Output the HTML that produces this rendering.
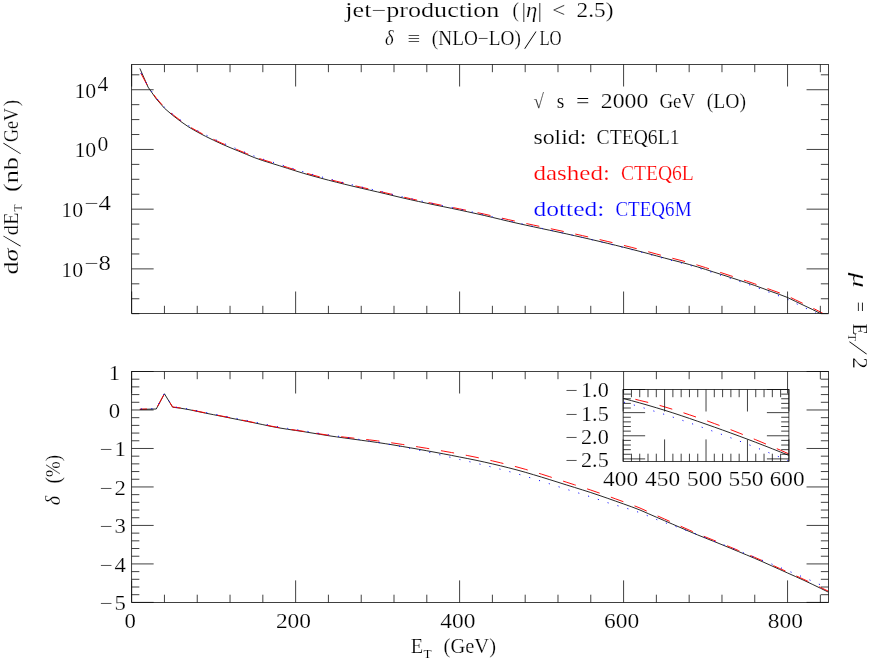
<!DOCTYPE html>
<html lang="en"><head><meta charset="utf-8"><title>jet-production</title>
<style>
html,body{margin:0;padding:0;background:#fff;}
body{width:872px;height:661px;overflow:hidden;font-family:"Liberation Serif",serif;}
svg{display:block;will-change:transform;}
.r{font-family:"Liberation Serif",serif;fill:#000;stroke:#fff;stroke-width:0.2px;}
.i{font-style:italic;}
.ax{fill:none;stroke:#0c0c0c;stroke-width:0.78;}
.cv{fill:none;stroke-width:0.95;stroke-linejoin:round;}
</style></head><body>
<svg width="872" height="661" viewBox="0 0 872 661">
<rect x="0" y="0" width="872" height="661" fill="#fff"/>
<defs>
<clipPath id="c1"><rect x="131.65" y="64.5" width="696.9" height="249"/></clipPath>
<clipPath id="c2"><rect x="131.65" y="371.5" width="696.9" height="230.9"/></clipPath>
<clipPath id="c3"><rect x="623.15" y="389.5" width="165.75" height="71.9"/></clipPath>
</defs>
<g clip-path="url(#c1)">
<path class="cv" stroke="#1c1c1c" d="M139.85 68.41L148.05 87.09L156.25 98.87L164.45 108.23L172.64 115.27L180.84 121.56L189.04 127.21L197.24 131.96L205.44 136.25L213.64 140.28L221.84 144.06L230.04 147.58L238.23 150.94L246.43 154.35L254.63 157.7L262.83 160.6L271.03 163.13L279.23 165.67L287.43 168.29L295.63 170.9L303.83 173.4L312.02 175.75L320.22 177.99L328.42 180.16L336.62 182.26L344.82 184.29L353.02 186.26L361.22 188.19L369.42 190.07L377.61 191.94L385.81 193.87L394.01 195.85L402.21 197.8L410.41 199.67L418.61 201.47L426.81 203.23L435.01 204.96L443.21 206.64L451.4 208.31L459.6 210.04L467.8 211.8L476 213.6L484.2 215.45L492.4 217.38L500.6 219.36L508.8 221.32L516.99 223.2L525.19 225.01L533.39 226.77L541.59 228.54L549.79 230.28L557.99 232.03L566.19 233.81L574.39 235.63L582.59 237.49L590.78 239.37L598.98 241.29L607.18 243.24L615.38 245.22L623.58 247.25L631.78 249.32L639.98 251.43L648.18 253.6L656.37 255.83L664.57 258.06L672.77 260.2L680.97 262.29L689.17 264.46L697.37 266.85L705.57 269.42L713.77 272.06L721.97 274.68L730.16 277.32L738.36 280L746.56 282.68L754.76 285.48L762.96 288.46L771.16 291.5L779.36 294.39L787.56 297.51L795.75 301.53L803.95 305.44L812.15 309.32L820.35 313.51L828.55 318.11"/>
<path class="cv" stroke="#ff0000" stroke-dasharray="13.2 11.8" stroke-dashoffset="-2.3" d="M139.85 71.41L148.05 86.61L156.25 98.08L164.45 107.43L172.64 114.46L180.84 120.74L189.04 126.39L197.24 131.12L205.44 135.41L213.64 139.43L221.84 143.21L230.04 146.71L238.23 150.07L246.43 153.47L254.63 156.82L262.83 159.71L271.03 162.23L279.23 164.76L287.43 167.38L295.63 169.98L303.83 172.47L312.02 174.81L320.22 177.05L328.42 179.21L336.62 181.31L344.82 183.33L353.02 185.29L361.22 187.22L369.42 189.08L377.61 190.95L385.81 192.87L394.01 194.84L402.21 196.79L410.41 198.65L418.61 200.45L426.81 202.2L435.01 203.92L443.21 205.59L451.4 207.25L459.6 208.9L467.8 210.59L476 212.31L484.2 214.08L492.4 215.94L500.6 217.84L508.8 219.72L516.99 221.53L525.19 223.3L533.39 225.05L541.59 226.79L549.79 228.52L557.99 230.25L566.19 232.02L574.39 233.82L582.59 235.66L590.78 237.53L598.98 239.43L607.18 241.36L615.38 243.33L623.58 245.36L631.78 247.43L639.98 249.55L648.18 251.74L656.37 253.98L664.57 256.21L672.77 258.37L680.97 260.47L689.17 262.65L697.37 265.04L705.57 267.64L713.77 270.3L721.97 272.94L730.16 275.61L738.36 278.3L746.56 281.01L754.76 283.83L762.96 286.84L771.16 289.9L779.36 292.81L787.56 295.95L795.75 299.99L803.95 303.91L812.15 307.8L820.35 311.99L828.55 316.61"/>
<path class="cv" stroke="#0000ff" stroke-dasharray="1.1 9.15" stroke-dashoffset="7.7" stroke-width="1.15" d="M139.85 70.91L148.05 86.31L156.25 97.88L164.45 107.14L172.64 114.08L180.84 120.28L189.04 125.84L197.24 130.49L205.44 134.75L213.64 138.78L221.84 142.56L230.04 146.08L238.23 149.44L246.43 152.85L254.63 156.2L262.83 159.1L271.03 161.63L279.23 164.17L287.43 166.79L295.63 169.4L303.83 171.91L312.02 174.29L320.22 176.57L328.42 178.77L336.62 180.9L344.82 182.95L353.02 184.96L361.22 186.92L369.42 188.83L377.61 190.73L385.81 192.69L394.01 194.7L402.21 196.69L410.41 198.58L418.61 200.41L426.81 202.2L435.01 203.96L443.21 205.67L451.4 207.38L459.6 209.14L467.8 210.96L476 212.82L484.2 214.73L492.4 216.72L500.6 218.76L508.8 220.78L516.99 222.73L525.19 224.6L533.39 226.42L541.59 228.25L549.79 230.07L557.99 231.88L566.19 233.73L574.39 235.62L582.59 237.54L590.78 239.5L598.98 241.48L607.18 243.47L615.38 245.5L623.58 247.57L631.78 249.68L639.98 251.83L648.18 254.04L656.37 256.32L664.57 258.58L672.77 260.77L680.97 262.9L689.17 265.14L697.37 267.6L705.57 270.24L713.77 272.95L721.97 275.64L730.16 278.35L738.36 281.1L746.56 283.85L754.76 286.74L762.96 289.84L771.16 293L779.36 296L787.56 299.23L795.75 303.37L803.95 307.36L812.15 311.26L820.35 315.47L828.55 320.11"/>
</g>
<g clip-path="url(#c2)">
<path class="cv" stroke="#1c1c1c" d="M139.85 409.4L148.05 409.2L156.25 409L164.45 393.8L172.64 407.19L180.84 408.24L189.04 409.66L197.24 411.4L205.44 413.11L213.64 414.71L221.84 416.33L230.04 417.97L238.23 419.62L246.43 421.28L254.63 422.93L262.83 424.63L271.03 426.38L279.23 427.92L287.43 429.24L295.63 430.45L303.83 431.68L312.02 433.01L320.22 434.37L328.42 435.68L336.62 436.89L344.82 438.02L353.02 439.13L361.22 440.26L369.42 441.37L377.61 442.52L385.81 443.75L394.01 445.07L402.21 446.44L410.41 447.84L418.61 449.28L426.81 450.76L435.01 452.27L443.21 453.81L451.4 455.39L459.6 456.99L467.8 458.6L476 460.26L484.2 462.03L492.4 463.88L500.6 465.82L508.8 467.85L516.99 469.98L525.19 472.26L533.39 474.67L541.59 477.13L549.79 479.66L557.99 482.26L566.19 484.85L574.39 487.39L582.59 489.94L590.78 492.56L598.98 495.31L607.18 498.15L615.38 501.04L623.58 503.94L631.78 506.89L639.98 510.03L648.18 513.59L656.37 517.18L664.57 520.71L672.77 524.24L680.97 527.8L689.17 531.35L697.37 534.81L705.57 538.11L713.77 541.37L721.97 544.7L730.16 548.09L738.36 551.51L746.56 554.92L754.76 558.36L762.96 561.92L771.16 565.6L779.36 569.31L787.56 572.97L795.75 576.63L803.95 580.37L812.15 584.23L820.35 588.18L828.55 592.23"/>
<path class="cv" stroke="#ff0000" stroke-dasharray="13.3 11.9" stroke-dashoffset="6.2" d="M139.85 409.19L148.05 408.99L156.25 408.79L164.45 393.58L172.64 406.97L180.84 408.01L189.04 409.42L197.24 411.16L205.44 412.86L213.64 414.47L221.84 416.07L230.04 417.71L238.23 419.36L246.43 421.01L254.63 422.66L262.83 424.35L271.03 426.1L279.23 427.64L287.43 428.94L295.63 430.16L303.83 431.36L312.02 432.63L320.22 433.94L328.42 435.2L336.62 436.22L344.82 437.15L353.02 438.05L361.22 438.98L369.42 439.88L377.61 440.89L385.81 441.99L394.01 443.17L402.21 444.4L410.41 445.67L418.61 446.97L426.81 448.31L435.01 449.68L443.21 451.09L451.4 452.53L459.6 453.99L467.8 455.6L476 457.26L484.2 459.03L492.4 460.88L500.6 462.82L508.8 464.85L516.99 466.98L525.19 469.26L533.39 471.67L541.59 474.15L549.79 476.76L557.99 479.44L566.19 482.11L574.39 484.74L582.59 487.36L590.78 490.07L598.98 492.9L607.18 495.82L615.38 498.8L623.58 501.78L631.78 504.81L639.98 508.03L648.18 511.7L656.37 515.4L664.57 519.06L672.77 522.7L680.97 526.38L689.17 530.04L697.37 533.58L705.57 536.97L713.77 540.28L721.97 543.62L730.16 547.02L738.36 550.45L746.56 553.88L754.76 557.33L762.96 560.91L771.16 564.6L779.36 568.32L787.56 572L795.75 575.67L803.95 579.43L812.15 583.3L820.35 587.27L828.55 591.32"/>
<path class="cv" stroke="#0000ff" stroke-dasharray="1.1 9.2" stroke-dashoffset="-1.1" stroke-width="1.15" d="M139.85 409.06L148.05 408.83L156.25 408.6L164.45 393.36L172.64 406.72L180.84 407.74L189.04 409.1L197.24 410.79L205.44 412.44L213.64 413.99L221.84 415.55L230.04 417.14L238.23 418.74L246.43 420.38L254.63 422.03L262.83 423.73L271.03 425.48L279.23 427.02L287.43 428.34L295.63 429.55L303.83 430.78L312.02 432.11L320.22 433.47L328.42 434.78L336.62 435.99L344.82 437.2L353.02 438.46L361.22 439.74L369.42 441L377.61 442.29L385.81 443.68L394.01 445.19L402.21 446.81L410.41 448.45L418.61 450.14L426.81 451.86L435.01 453.68L443.21 455.58L451.4 457.51L459.6 459.47L467.8 461.31L476 463.19L484.2 465.17L492.4 467.22L500.6 469.3L508.8 471.48L516.99 473.75L525.19 476.18L533.39 478.7L541.59 481.25L549.79 483.86L557.99 486.54L566.19 489.17L574.39 491.72L582.59 494.28L590.78 496.92L598.98 499.69L607.18 502.54L615.38 505.06L623.58 507.39L631.78 509.9L639.98 512.71L648.18 515.98L656.37 519.45L664.57 522.5L672.77 525.4L680.97 528.48L689.17 531.52L697.37 534.46L705.57 537.62L713.77 541.05L721.97 544.16L730.16 547.24L738.36 550.56L746.56 554.02L754.76 557.34L762.96 560.57L771.16 563.82L779.36 567.18L787.56 570.63L795.75 574.06L803.95 577.5L812.15 581.05L820.35 584.74L828.55 588.56"/>
</g>
<g clip-path="url(#c3)">
<path class="cv" stroke="#1c1c1c" d="M623.15 398.44L631.44 400.64L639.73 402.93L648.01 405.29L656.3 407.74L664.59 410.26L672.88 412.88L681.16 415.61L689.45 418.42L697.74 421.29L706.02 424.17L714.31 427.09L722.6 430.04L730.89 433.05L739.17 436.1L747.46 439.2L755.75 442.34L764.04 445.54L772.33 448.79L780.61 452.08L788.9 455.42"/>
<path class="cv" stroke="#ff0000" stroke-dasharray="13.2 11.8" stroke-dashoffset="12.4" d="M623.15 396.24L631.44 398.29L639.73 400.43L648.01 402.39L656.3 404.44L664.59 406.86L672.88 409.38L681.16 412.01L689.45 414.79L697.74 417.62L706.02 420.47L714.31 423.52L722.6 426.61L730.89 429.75L739.17 433.03L747.46 436.37L755.75 439.74L764.04 443.21L772.33 446.72L780.61 450.28L788.9 453.92"/>
<path class="cv" stroke="#0000ff" stroke-dasharray="1.1 9.1" stroke-dashoffset="-0.9" stroke-width="1.15" d="M623.15 401.94L631.44 404.29L639.73 406.73L648.01 409.24L656.3 411.84L664.59 414.43L672.88 417.13L681.16 419.94L689.45 422.82L697.74 425.76L706.02 428.72L714.31 431.71L722.6 434.74L730.89 437.85L739.17 441L747.46 444.2L755.75 447.44L764.04 450.74L772.33 454.09L780.61 457.48L788.9 460.92"/>
</g>
<rect class="ax" x="131.65" y="64.5" width="696.9" height="249"/>
<rect class="ax" x="131.65" y="371.5" width="696.9" height="230.9"/>
<rect class="ax" x="623.15" y="389.5" width="165.75" height="71.9"/>
<path class="ax" d="M131.65 64.5v22M131.65 313.5v-22M164.45 64.5v7.7M164.45 313.5v-7.7M197.24 64.5v7.7M197.24 313.5v-7.7M230.04 64.5v7.7M230.04 313.5v-7.7M262.83 64.5v7.7M262.83 313.5v-7.7M295.63 64.5v22M295.63 313.5v-22M328.42 64.5v7.7M328.42 313.5v-7.7M361.22 64.5v7.7M361.22 313.5v-7.7M394.01 64.5v7.7M394.01 313.5v-7.7M426.81 64.5v7.7M426.81 313.5v-7.7M459.6 64.5v22M459.6 313.5v-22M492.4 64.5v7.7M492.4 313.5v-7.7M525.19 64.5v7.7M525.19 313.5v-7.7M557.99 64.5v7.7M557.99 313.5v-7.7M590.78 64.5v7.7M590.78 313.5v-7.7M623.58 64.5v22M623.58 313.5v-22M656.37 64.5v7.7M656.37 313.5v-7.7M689.17 64.5v7.7M689.17 313.5v-7.7M721.97 64.5v7.7M721.97 313.5v-7.7M754.76 64.5v7.7M754.76 313.5v-7.7M787.56 64.5v22M787.56 313.5v-22M820.35 64.5v7.7M820.35 313.5v-7.7M131.65 371.5v22M131.65 602.4v-22M164.45 371.5v7.7M164.45 602.4v-7.7M197.24 371.5v7.7M197.24 602.4v-7.7M230.04 371.5v7.7M230.04 602.4v-7.7M262.83 371.5v7.7M262.83 602.4v-7.7M295.63 371.5v22M295.63 602.4v-22M328.42 371.5v7.7M328.42 602.4v-7.7M361.22 371.5v7.7M361.22 602.4v-7.7M394.01 371.5v7.7M394.01 602.4v-7.7M426.81 371.5v7.7M426.81 602.4v-7.7M459.6 371.5v22M459.6 602.4v-22M492.4 371.5v7.7M492.4 602.4v-7.7M525.19 371.5v7.7M525.19 602.4v-7.7M557.99 371.5v7.7M557.99 602.4v-7.7M590.78 371.5v7.7M590.78 602.4v-7.7M623.58 371.5v22M623.58 602.4v-22M656.37 371.5v7.7M656.37 602.4v-7.7M689.17 371.5v7.7M689.17 602.4v-7.7M721.97 371.5v7.7M721.97 602.4v-7.7M754.76 371.5v7.7M754.76 602.4v-7.7M787.56 371.5v22M787.56 602.4v-22M820.35 371.5v7.7M820.35 602.4v-7.7M131.65 313.68h7.7M828.55 313.68h-7.7M131.65 298.75h7.7M828.55 298.75h-7.7M131.65 283.82h7.7M828.55 283.82h-7.7M131.65 268.89h22M828.55 268.89h-22M131.65 253.96h7.7M828.55 253.96h-7.7M131.65 239.03h7.7M828.55 239.03h-7.7M131.65 224.1h7.7M828.55 224.1h-7.7M131.65 209.17h22M828.55 209.17h-22M131.65 194.24h7.7M828.55 194.24h-7.7M131.65 179.31h7.7M828.55 179.31h-7.7M131.65 164.38h7.7M828.55 164.38h-7.7M131.65 149.45h22M828.55 149.45h-22M131.65 134.52h7.7M828.55 134.52h-7.7M131.65 119.59h7.7M828.55 119.59h-7.7M131.65 104.66h7.7M828.55 104.66h-7.7M131.65 89.73h22M828.55 89.73h-22M131.65 74.8h7.7M828.55 74.8h-7.7M131.65 371.5h22M828.55 371.5h-22M131.65 379.2h7.7M828.55 379.2h-7.7M131.65 386.89h7.7M828.55 386.89h-7.7M131.65 394.59h7.7M828.55 394.59h-7.7M131.65 402.29h7.7M828.55 402.29h-7.7M131.65 409.98h22M828.55 409.98h-22M131.65 417.68h7.7M828.55 417.68h-7.7M131.65 425.38h7.7M828.55 425.38h-7.7M131.65 433.07h7.7M828.55 433.07h-7.7M131.65 440.77h7.7M828.55 440.77h-7.7M131.65 448.47h22M828.55 448.47h-22M131.65 456.16h7.7M828.55 456.16h-7.7M131.65 463.86h7.7M828.55 463.86h-7.7M131.65 471.56h7.7M828.55 471.56h-7.7M131.65 479.25h7.7M828.55 479.25h-7.7M131.65 486.95h22M828.55 486.95h-22M131.65 494.65h7.7M828.55 494.65h-7.7M131.65 502.34h7.7M828.55 502.34h-7.7M131.65 510.04h7.7M828.55 510.04h-7.7M131.65 517.74h7.7M828.55 517.74h-7.7M131.65 525.43h22M828.55 525.43h-22M131.65 533.13h7.7M828.55 533.13h-7.7M131.65 540.83h7.7M828.55 540.83h-7.7M131.65 548.52h7.7M828.55 548.52h-7.7M131.65 556.22h7.7M828.55 556.22h-7.7M131.65 563.92h22M828.55 563.92h-22M131.65 571.61h7.7M828.55 571.61h-7.7M131.65 579.31h7.7M828.55 579.31h-7.7M131.65 587.01h7.7M828.55 587.01h-7.7M131.65 594.7h7.7M828.55 594.7h-7.7M131.65 602.4h22M828.55 602.4h-22"/>
<path class="ax" d="M623.15 389.5v22M623.15 461.4v-22M631.44 389.5v7.7M631.44 461.4v-7.7M639.73 389.5v7.7M639.73 461.4v-7.7M648.01 389.5v7.7M648.01 461.4v-7.7M656.3 389.5v7.7M656.3 461.4v-7.7M664.59 389.5v22M664.59 461.4v-22M672.88 389.5v7.7M672.88 461.4v-7.7M681.16 389.5v7.7M681.16 461.4v-7.7M689.45 389.5v7.7M689.45 461.4v-7.7M697.74 389.5v7.7M697.74 461.4v-7.7M706.02 389.5v22M706.02 461.4v-22M714.31 389.5v7.7M714.31 461.4v-7.7M722.6 389.5v7.7M722.6 461.4v-7.7M730.89 389.5v7.7M730.89 461.4v-7.7M739.17 389.5v7.7M739.17 461.4v-7.7M747.46 389.5v22M747.46 461.4v-22M755.75 389.5v7.7M755.75 461.4v-7.7M764.04 389.5v7.7M764.04 461.4v-7.7M772.33 389.5v7.7M772.33 461.4v-7.7M780.61 389.5v7.7M780.61 461.4v-7.7M788.9 389.5v22M788.9 461.4v-22M623.15 389.5h22M788.9 389.5h-22M623.15 394.13h7.7M788.9 394.13h-7.7M623.15 398.75h7.7M788.9 398.75h-7.7M623.15 403.38h7.7M788.9 403.38h-7.7M623.15 408.01h7.7M788.9 408.01h-7.7M623.15 412.63h22M788.9 412.63h-22M623.15 417.26h7.7M788.9 417.26h-7.7M623.15 421.89h7.7M788.9 421.89h-7.7M623.15 426.52h7.7M788.9 426.52h-7.7M623.15 431.14h7.7M788.9 431.14h-7.7M623.15 435.77h22M788.9 435.77h-22M623.15 440.4h7.7M788.9 440.4h-7.7M623.15 445.02h7.7M788.9 445.02h-7.7M623.15 449.65h7.7M788.9 449.65h-7.7M623.15 454.28h7.7M788.9 454.28h-7.7M623.15 458.9h22M788.9 458.9h-22"/>
<text class="r" x="345.3" y="17.1" font-size="20.4" textLength="154.1" lengthAdjust="spacingAndGlyphs">jet&#8722;production</text>
<text class="r" x="512.4" y="17.1" font-size="20.4" textLength="6.4" lengthAdjust="spacingAndGlyphs">(</text>
<text class="r" x="521.5" y="17.1" font-size="20.4" textLength="20.5" lengthAdjust="spacingAndGlyphs">|<tspan class="i">&#951;</tspan>|</text>
<text class="r" x="552.2" y="17.1" font-size="20.4" textLength="13.1" lengthAdjust="spacingAndGlyphs">&lt;</text>
<text class="r" x="576.6" y="17.1" font-size="20.4" textLength="36.8" lengthAdjust="spacingAndGlyphs">2.5)</text>
<text class="r" x="385" y="45.4" font-size="20.4" textLength="8.6" lengthAdjust="spacingAndGlyphs" font-style="italic">&#948;</text>
<text class="r" x="407.5" y="45.4" font-size="20.4" textLength="12.7" lengthAdjust="spacingAndGlyphs">&#8801;</text>
<text class="r" x="431.8" y="45.4" font-size="20.4" textLength="89" lengthAdjust="spacingAndGlyphs">(NLO&#8722;LO)</text>
<text class="r" x="523.2" y="48.7" font-size="27" textLength="14.4" lengthAdjust="spacingAndGlyphs" style="stroke-width:0.75px">/</text>
<text class="r" x="539.4" y="45.4" font-size="20.4" textLength="22.2" lengthAdjust="spacingAndGlyphs">LO</text>
<text class="r" x="533.4" y="108.1" font-size="20.4" textLength="10.4" lengthAdjust="spacingAndGlyphs">&#8730;</text>
<text class="r" x="556.8" y="108.1" font-size="20.4" textLength="7.6" lengthAdjust="spacingAndGlyphs">s</text>
<text class="r" x="575.9" y="108.1" font-size="20.4" textLength="13.4" lengthAdjust="spacingAndGlyphs">=</text>
<text class="r" x="600.8" y="108.1" font-size="20.4" textLength="47.6" lengthAdjust="spacingAndGlyphs">2000</text>
<text class="r" x="659.4" y="108.1" font-size="20.4" textLength="35.8" lengthAdjust="spacingAndGlyphs">GeV</text>
<text class="r" x="706.8" y="108.1" font-size="20.4" textLength="39.3" lengthAdjust="spacingAndGlyphs">(LO)</text>
<text class="r" x="533.4" y="143.9" font-size="20.4" textLength="53" lengthAdjust="spacingAndGlyphs">solid:</text>
<text class="r" x="596.6" y="143.9" font-size="20.4" textLength="82.9" lengthAdjust="spacingAndGlyphs">CTEQ6L1</text>
<text class="r" x="533.4" y="179.6" font-size="20.4" textLength="76.5" lengthAdjust="spacingAndGlyphs" style="fill:#ff0000">dashed:</text>
<text class="r" x="620.9" y="179.6" font-size="20.4" textLength="72.9" lengthAdjust="spacingAndGlyphs" style="fill:#ff0000">CTEQ6L</text>
<text class="r" x="533.4" y="215.7" font-size="20.4" textLength="71" lengthAdjust="spacingAndGlyphs" style="fill:#0000ff">dotted:</text>
<text class="r" x="615.4" y="215.7" font-size="20.4" textLength="76.2" lengthAdjust="spacingAndGlyphs" style="fill:#0000ff">CTEQ6M</text>
<text class="r" x="74.4" y="97.53" font-size="20" textLength="21.8" lengthAdjust="spacingAndGlyphs">10</text>
<text class="r" x="97.4" y="90.93" font-size="20" textLength="10.8" lengthAdjust="spacingAndGlyphs">4</text>
<text class="r" x="74.4" y="157.25" font-size="20" textLength="21.8" lengthAdjust="spacingAndGlyphs">10</text>
<text class="r" x="97.4" y="150.65" font-size="20" textLength="10.8" lengthAdjust="spacingAndGlyphs">0</text>
<text class="r" x="61.3" y="216.97" font-size="20" textLength="21.8" lengthAdjust="spacingAndGlyphs">10</text>
<text class="r" x="84.6" y="210.37" font-size="20" textLength="26.4" lengthAdjust="spacingAndGlyphs">&#8722;4</text>
<text class="r" x="61.3" y="276.69" font-size="20" textLength="21.8" lengthAdjust="spacingAndGlyphs">10</text>
<text class="r" x="84.6" y="270.09" font-size="20" textLength="26.4" lengthAdjust="spacingAndGlyphs">&#8722;8</text>
<text class="r" x="108.8" y="379.5" font-size="20" textLength="11.4" lengthAdjust="spacingAndGlyphs">1</text>
<text class="r" x="108.8" y="417.98" font-size="20" textLength="11.4" lengthAdjust="spacingAndGlyphs">0</text>
<text class="r" x="99.8" y="456.47" font-size="20" textLength="12.9" lengthAdjust="spacingAndGlyphs">&#8722;</text>
<text class="r" x="114.5" y="456.47" font-size="20" textLength="11.4" lengthAdjust="spacingAndGlyphs">1</text>
<text class="r" x="99.8" y="494.95" font-size="20" textLength="12.9" lengthAdjust="spacingAndGlyphs">&#8722;</text>
<text class="r" x="114.5" y="494.95" font-size="20" textLength="11.4" lengthAdjust="spacingAndGlyphs">2</text>
<text class="r" x="99.8" y="533.43" font-size="20" textLength="12.9" lengthAdjust="spacingAndGlyphs">&#8722;</text>
<text class="r" x="114.5" y="533.43" font-size="20" textLength="11.4" lengthAdjust="spacingAndGlyphs">3</text>
<text class="r" x="99.8" y="571.92" font-size="20" textLength="12.9" lengthAdjust="spacingAndGlyphs">&#8722;</text>
<text class="r" x="114.5" y="571.92" font-size="20" textLength="11.4" lengthAdjust="spacingAndGlyphs">4</text>
<text class="r" x="99.8" y="610.4" font-size="20" textLength="12.9" lengthAdjust="spacingAndGlyphs">&#8722;</text>
<text class="r" x="114.5" y="610.4" font-size="20" textLength="11.4" lengthAdjust="spacingAndGlyphs">5</text>
<text class="r" x="124.5" y="628" font-size="20" textLength="11.4" lengthAdjust="spacingAndGlyphs">0</text>
<text class="r" x="275.9" y="628" font-size="20" textLength="35.2" lengthAdjust="spacingAndGlyphs">200</text>
<text class="r" x="440.2" y="628" font-size="20" textLength="35.2" lengthAdjust="spacingAndGlyphs">400</text>
<text class="r" x="604.1" y="628" font-size="20" textLength="35.2" lengthAdjust="spacingAndGlyphs">600</text>
<text class="r" x="767.7" y="628" font-size="20" textLength="35.2" lengthAdjust="spacingAndGlyphs">800</text>
<text class="r" x="565.2" y="397.4" font-size="20" textLength="12.6" lengthAdjust="spacingAndGlyphs">&#8722;</text>
<text class="r" x="581" y="397.4" font-size="20" textLength="27.8" lengthAdjust="spacingAndGlyphs">1.0</text>
<text class="r" x="565.2" y="420.53" font-size="20" textLength="12.6" lengthAdjust="spacingAndGlyphs">&#8722;</text>
<text class="r" x="581" y="420.53" font-size="20" textLength="27.8" lengthAdjust="spacingAndGlyphs">1.5</text>
<text class="r" x="565.2" y="443.67" font-size="20" textLength="12.6" lengthAdjust="spacingAndGlyphs">&#8722;</text>
<text class="r" x="581" y="443.67" font-size="20" textLength="27.8" lengthAdjust="spacingAndGlyphs">2.0</text>
<text class="r" x="565.2" y="466.8" font-size="20" textLength="12.6" lengthAdjust="spacingAndGlyphs">&#8722;</text>
<text class="r" x="581" y="466.8" font-size="20" textLength="27.8" lengthAdjust="spacingAndGlyphs">2.5</text>
<text class="r" x="603.1" y="486.4" font-size="20" textLength="35" lengthAdjust="spacingAndGlyphs">400</text>
<text class="r" x="645.1" y="486.4" font-size="20" textLength="35" lengthAdjust="spacingAndGlyphs">450</text>
<text class="r" x="687.1" y="486.4" font-size="20" textLength="35" lengthAdjust="spacingAndGlyphs">500</text>
<text class="r" x="728.5" y="486.4" font-size="20" textLength="35" lengthAdjust="spacingAndGlyphs">550</text>
<text class="r" x="769.7" y="486.4" font-size="20" textLength="35" lengthAdjust="spacingAndGlyphs">600</text>
<text class="r" x="410.7" y="653.3" font-size="20.4" textLength="12.4" lengthAdjust="spacingAndGlyphs">E</text>
<text class="r" x="423.5" y="657.8" font-size="11.6" textLength="8.1" lengthAdjust="spacingAndGlyphs" style="stroke-width:0.15px">T</text>
<text class="r" x="443.6" y="653.3" font-size="20.4" textLength="52.4" lengthAdjust="spacingAndGlyphs">(GeV)</text>
<g transform="translate(17.7 274.6) rotate(-90)">
<text class="r" x="0" y="0" font-size="20.4" textLength="25.8" lengthAdjust="spacingAndGlyphs">d<tspan class="i">&#963;</tspan></text>
<text class="r" x="27" y="3.3" font-size="27" textLength="12.8" lengthAdjust="spacingAndGlyphs" style="stroke-width:0.75px">/</text>
<text class="r" x="39.4" y="0" font-size="20.4" textLength="22.8" lengthAdjust="spacingAndGlyphs">dE</text>
<text class="r" x="63.2" y="4.4" font-size="11.6" textLength="7" lengthAdjust="spacingAndGlyphs" style="stroke-width:0.15px">T</text>
<text class="r" x="82.6" y="0" font-size="20.4" textLength="35" lengthAdjust="spacingAndGlyphs">(nb</text>
<text class="r" x="119.4" y="3.3" font-size="27" textLength="13.6" lengthAdjust="spacingAndGlyphs" style="stroke-width:0.75px">/</text>
<text class="r" x="132.6" y="0" font-size="20.4" textLength="34.2" lengthAdjust="spacingAndGlyphs">GeV</text>
<text class="r" x="168.6" y="0" font-size="20.4" textLength="6" lengthAdjust="spacingAndGlyphs">)</text>
</g>
<g transform="translate(60.3 505.2) rotate(-90)">
<text class="r" x="0" y="0" font-size="20.4" textLength="9.4" lengthAdjust="spacingAndGlyphs" font-style="italic">&#948;</text>
<text class="r" x="21.6" y="0" font-size="20.4" textLength="28.8" lengthAdjust="spacingAndGlyphs">(%)</text>
</g>
<g transform="translate(852.8 272.4) rotate(90)">
<text class="r" x="0" y="0" font-size="20.4" textLength="15.4" lengthAdjust="spacingAndGlyphs" font-style="italic">&#956;</text>
<text class="r" x="29" y="0" font-size="20.4" textLength="10.4" lengthAdjust="spacingAndGlyphs">=</text>
<text class="r" x="51.4" y="0" font-size="20.4" textLength="11" lengthAdjust="spacingAndGlyphs">E</text>
<text class="r" x="61.4" y="4.4" font-size="11.6" textLength="7" lengthAdjust="spacingAndGlyphs" style="stroke-width:0.15px">T</text>
<text class="r" x="67.6" y="3.6" font-size="28" textLength="15.8" lengthAdjust="spacingAndGlyphs" style="stroke-width:0.75px">/</text>
<text class="r" x="85" y="0" font-size="20.4" textLength="11.4" lengthAdjust="spacingAndGlyphs">2</text>
</g>
</svg>
</body></html>
